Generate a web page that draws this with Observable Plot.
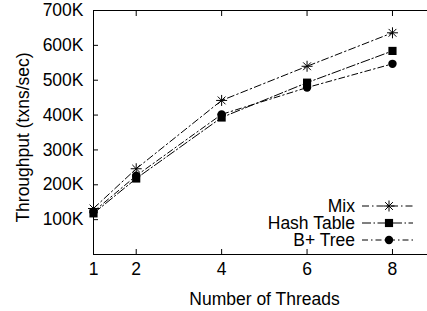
<!DOCTYPE html>
<html>
<head>
<meta charset="utf-8">
<script src="https://cdn.jsdelivr.net/npm/d3@7"></script>
<script src="https://cdn.jsdelivr.net/npm/@observablehq/plot@0.6"></script>
<style>
  html, body { margin: 0; padding: 0; background: #fff; overflow: hidden; }
  #chart { position: relative; width: 427px; height: 311px; }
</style>
</head>
<body>
<div id="chart"></div>
<script>
const threads = [1, 2, 4, 6, 8];
const seriesNames = ["Mix", "Hash Table", "B+ Tree"];
const mix = [132000, 246000, 442000, 540000, 636000];
const hashTable = [118000, 218000, 393000, 493000, 584000];
const bTree = [123000, 226000, 402000, 479000, 547000];
const xTicks = [1, 2, 4, 6, 8];
const yTicks = [100000, 200000, 300000, 400000, 500000, 600000, 700000];
const xLabel = "Number of Threads";
const yLabel = "Throughput (txns/sec)";

const FONT = "Liberation Sans, Arial, Helvetica, sans-serif";
const FS = 17.5;

const starSymbol = {
  draw(ctx, size) {
    const r = Math.sqrt(size / Math.PI);
    const d = r * Math.SQRT1_2;
    ctx.moveTo(-r, 0); ctx.lineTo(r, 0);
    ctx.moveTo(0, -r); ctx.lineTo(0, r);
    ctx.moveTo(-d, -d); ctx.lineTo(d, d);
    ctx.moveTo(-d, d); ctx.lineTo(d, -d);
  }
};

const styles = {
  "Mix": {symbol: starSymbol, r: 5.5, fill: "none", stroke: "black", dash: "7,3,1.5,3"},
  "Hash Table": {symbol: "square", r: 4.6, fill: "black", stroke: "none", dash: "9,2.5,1.5,2.5"},
  "B+ Tree": {symbol: "circle", r: 4.2, fill: "black", stroke: "none", dash: "6,3,1.5,3"}
};

const values = {"Mix": mix, "Hash Table": hashTable, "B+ Tree": bTree};
const data = seriesNames.flatMap(s => threads.map((t, i) => ({series: s, threads: t, value: values[s][i]})));

const marks = [];
for (const s of seriesNames) {
  const d = data.filter(r => r.series === s);
  const st = styles[s];
  marks.push(Plot.line(d, {x: "threads", y: "value", stroke: "black", strokeWidth: 1, strokeDasharray: st.dash}));
}
for (const s of seriesNames) {
  const d = data.filter(r => r.series === s);
  const st = styles[s];
  marks.push(Plot.dot(d, {x: "threads", y: "value", symbol: () => st.symbol, r: st.r, fill: st.fill, stroke: st.stroke, strokeWidth: 1}));
}

const xDomain = [1, 8.82];
const yDomain = [0, 700000];

const plot = Plot.plot({
  width: 427,
  height: 311,
  marginLeft: 93,
  marginRight: 0,
  marginTop: 10,
  marginBottom: 57,
  style: {fontFamily: FONT, fontSize: FS + "px", color: "black", background: "white"},
  symbol: {type: "identity"},
  x: {domain: xDomain, axis: null},
  y: {domain: yDomain, axis: null},
  marks: [
    ...marks,
    Plot.ruleY(yDomain, {stroke: "black", strokeWidth: 1}),
    Plot.ruleX([xDomain[0]], {stroke: "black", strokeWidth: 1}),
    Plot.axisX({anchor: "bottom", ticks: xTicks, tickSize: -5, tickFormat: () => "", label: null}),
    Plot.axisX({anchor: "top", ticks: xTicks, tickSize: -5, tickFormat: () => "", label: null}),
    Plot.axisX({anchor: "bottom", ticks: xTicks, tickSize: 0, tickPadding: 8, tickFormat: d => String(d), label: null, fontSize: FS}),
    Plot.axisY({anchor: "left", ticks: yTicks, tickSize: -5, tickFormat: () => "", label: null}),
    Plot.axisY({anchor: "left", ticks: yTicks, tickSize: 0, tickPadding: 10, tickFormat: d => (d / 1000) + "K", label: null, fontSize: FS}),
    Plot.text([xLabel], {frameAnchor: "bottom", text: d => d, textAnchor: "middle", dx: 4, dy: 45, fontSize: FS, lineAnchor: "middle"}),
    Plot.text([yLabel], {frameAnchor: "left", text: d => d, textAnchor: "middle", rotate: -90, dx: -70, dy: 5, fontSize: FS, lineAnchor: "middle"})
  ]
});

document.getElementById("chart").appendChild(plot);

// Legend (inside plot, bottom-right)
const svg = d3.select(plot);
const leg = svg.append("g").attr("font-family", FONT).attr("font-size", FS);
const rowY = [206, 223, 240];
seriesNames.forEach((s, i) => {
  const st = styles[s];
  const g = leg.append("g").attr("transform", `translate(0,${rowY[i]})`);
  g.append("text").attr("x", 355).attr("y", 0).attr("dy", "0.35em").attr("text-anchor", "end").attr("fill", "black").text(s);
  g.append("line").attr("x1", 362).attr("x2", 413).attr("y1", 0).attr("y2", 0)
    .attr("stroke", "black").attr("stroke-width", 1).attr("stroke-dasharray", st.dash);
  const sym = typeof st.symbol === "string" ? (st.symbol === "square" ? d3.symbolSquare : d3.symbolCircle) : st.symbol;
  g.append("path").attr("transform", "translate(389,0)")
    .attr("d", d3.symbol(sym, st.r * st.r * Math.PI)())
    .attr("fill", st.fill).attr("stroke", st.stroke === "none" ? null : st.stroke).attr("stroke-width", 1);
});
</script>
</body>
</html>
